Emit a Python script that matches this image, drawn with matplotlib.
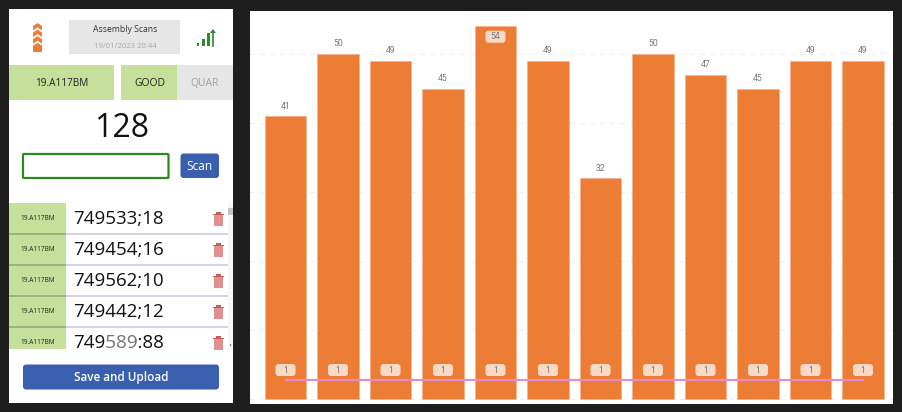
import matplotlib
matplotlib.use("Agg")
import matplotlib.pyplot as plt
from matplotlib.patches import Rectangle, FancyBboxPatch, Polygon

plt.rcParams['font.family'] = ['Open Sans', 'DejaVu Sans']

categories = list(range(12))
bar_values = [41, 50, 49, 45, 54, 49, 32, 50, 47, 45, 49, 49]
pill_values = [1] * 12
line_values = [2.7] * 12
y_ticks = [0, 10, 20, 30, 40, 50]
batch = "19.A117BM"
scans = ["749533;18", "749454;16", "749562;10", "749442;12", "749589:88"]
scan_count = "128"

ORANGE = "#ED7D35"
GREEN = "#C5E09B"
GREY = "#E6E6E6"
BLUE = "#3A5FAE"
DARK = "#1E1E1E"

fig = plt.figure(figsize=(9.03, 4.12), dpi=100, facecolor=DARK)

# ---------- pixel-coordinate UI layer ----------
ui = fig.add_axes([0, 0, 1, 1])
ui.set_xlim(0, 903)
ui.set_ylim(412, 0)
ui.axis("off")


def rect(x, y, w, h, c, **k):
    ui.add_patch(Rectangle((x, y), w, h, facecolor=c, edgecolor="none", **k))


def rrect(x, y, w, h, c, r=2, ec="none", lw=0):
    ui.add_patch(FancyBboxPatch((x, y), w, h, boxstyle=f"round,pad=0,rounding_size={r}",
                                facecolor=c, edgecolor=ec, linewidth=lw))


rect(9, 9, 224, 394, "white")
rect(250, 11, 643, 393, "white")

# header
rect(69, 20, 111, 34, GREY)
ui.text(125.5, 29, "Assembly Scans", ha="center", va="center", fontsize=6.2, color="#333333")
ui.text(125.5, 46, "19/01/2023 20:44", ha="center", va="center", fontsize=5.6, color="#AAAAAA")

# logo: stacked chevrons
for i in range(4):
    top = 24 + i * 6.6
    ui.add_patch(Polygon([(33, top + 2), (37.5, top - 1), (42, top + 2), (42, top + 6.5),
                          (37.5, top + 3.5), (33, top + 6.5)], facecolor=ORANGE, edgecolor="none"))
rect(33, 47, 9, 5, ORANGE)

# signal icon
for x, top in [(198, 42.5), (203.5, 39), (208.5, 33)]:
    rect(x - 1, top, 2.2, 46 - top, "#2E8B2E")
ui.plot([213, 213], [46, 32], color="#2E8B2E", lw=1.2)
ui.add_patch(Polygon([(210, 33), (213, 29), (216, 33)], facecolor="#2E8B2E", edgecolor="none"))

# status row
rect(9.5, 65, 104.5, 35, GREEN)
rect(121.5, 65, 56, 35, GREEN)
rect(177.5, 65, 55.5, 35, GREY)
ui.text(61.5, 83, batch, ha="center", va="center", fontsize=7.2, color="#222222")
ui.text(149.5, 83, "GOOD", ha="center", va="center", fontsize=7.5, color="#222222")
ui.text(205, 83, "QUAR", ha="center", va="center", fontsize=7.5, color="#A0A0A0")

# count and input
ui.text(121.5, 128.5, scan_count, ha="center", va="center", fontsize=23, color="#111111")
rrect(23, 154, 145.5, 24, "white", r=1, ec="#2A8A1E", lw=1.6)
rrect(180.5, 153.5, 38.5, 24.5, BLUE, r=3)
ui.text(199.5, 166, "Scan", ha="center", va="center", fontsize=8.6, color="white", fontweight="medium")

# list rows
row_top = [203, 234, 265, 296, 327]
row_bottom = [234, 265, 296, 327, 349]
for top, bottom, code in zip(row_top, row_bottom, scans):
    rect(9.5, top, 56.5, bottom - top, GREEN)
    cy = top + 15.5
    ui.text(37.5, cy, batch, ha="center", va="center", fontsize=4.7, color="#222222", fontweight="medium")
    ui.text(73, cy + 0.5, code, ha="left", va="center", fontsize=13.5, color="#111111")
    # trash can
    rect(214.5, cy - 3.5, 8.5, 11, "#E09090")
    rect(213.5, cy - 5, 10.5, 1.4, "#CC5A5A")
    rect(216.5, cy - 6.5, 4.5, 1.5, "#CC5A5A")
    if bottom != 349:
        ui.plot([66, 228], [bottom, bottom], color="#C3C6E2", lw=1.1, solid_capstyle="butt")
        ui.plot([9.5, 66], [bottom, bottom], color="#8FA67C", lw=1.1, solid_capstyle="butt")

# translucent overlay that greys the middle digits of the last row
rect(107, 332, 29, 19, "white", alpha=0.42, zorder=5)

# scrollbar
rect(228.5, 203, 4.5, 146, "#F7F7F7")
rect(228.5, 208, 4.5, 7, "#C4C4C4")
ui.add_patch(Polygon([(229.5, 344.5), (231.5, 344.5), (230.5, 346.5)], facecolor="#555555", edgecolor="none"))

# save button
rrect(23, 364.5, 196, 25, BLUE, r=3)
ui.text(121, 377.5, "Save and Upload", ha="center", va="center", fontsize=8.4, color="white", fontweight="semibold")

# ---------- chart ----------
PX_X0, PX_STEP = 285.5, 52.5
PX_Y0, PX_UNIT = 399.0, 6.9
L, R, T, B = 250, 893, 11, 404
ax = fig.add_axes([L / 903, 1 - B / 412, (R - L) / 903, (B - T) / 412])
ax.patch.set_alpha(0)
ax.set_xlim((L - PX_X0) / PX_STEP, (R - PX_X0) / PX_STEP)
ax.set_ylim((PX_Y0 - B) / PX_UNIT, (PX_Y0 - T) / PX_UNIT)
for s in ax.spines.values():
    s.set_visible(False)
ax.set_xticks([])
ax.set_yticks(y_ticks)
ax.tick_params(left=False, labelleft=False)
ax.set_axisbelow(True)
ax.yaxis.grid(True, color="#EFEFEF", lw=0.8, ls=(0, (4, 5)))

ax.bar(categories, bar_values, width=0.79, color=ORANGE, edgecolor="#F6B48C", linewidth=0.6, zorder=2)
ax.plot(categories, line_values, color="#E58AD0", lw=1.5, zorder=3)

PILL_W, PILL_H = 20 / PX_STEP, 12 / PX_UNIT


def pill(x, y):
    ax.add_patch(FancyBboxPatch((x - PILL_W / 2, y - PILL_H / 2), PILL_W, PILL_H,
                                boxstyle=f"round,pad=0,rounding_size={3 / PX_STEP}",
                                mutation_aspect=PX_STEP / PX_UNIT,
                                facecolor="#FAD9C6", edgecolor="none", zorder=4))


label = dict(ha="center", va="center", fontsize=6.2, color="#777777", family="Roboto", zorder=5)
for x, v, p in zip(categories, bar_values, pill_values):
    pill(x, 4.2)
    ax.text(x, 4.2, str(p), **label)
    if v > 52:
        pill(x, v - 1.5)
        ax.text(x, v - 1.5, str(v), **label)
    else:
        ax.text(x, v + 1.45, str(v), **label)

fig.savefig("out.png", dpi=100, facecolor=DARK)
